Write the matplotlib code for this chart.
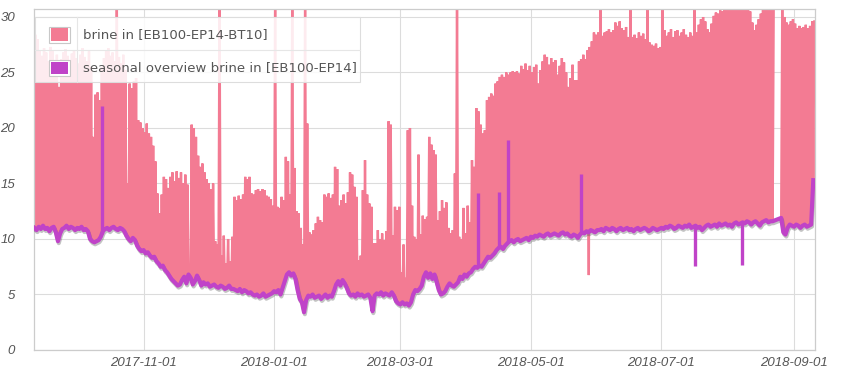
import numpy as np
import matplotlib
matplotlib.use('Agg')
import matplotlib.pyplot as plt
import matplotlib.dates as mdates
import matplotlib.patheffects as pe
from matplotlib.patches import Rectangle
from matplotlib.lines import Line2D

# ---------------- data (daily, starting at start_date) ----------------
start_date = '2017-09-11'

# seasonal overview brine in (daily), also the daily minimum of the brine-in signal
seasonal = [
    11.0, 10.8, 11.1, 10.9, 11.2, 10.9, 11.0, 10.7, 11.0, 11.1, 10.6,
    9.8,
    10.5, 10.9, 11.0, 11.2, 10.9, 11.1, 11.0, 10.8, 11.0, 10.9, 11.1, 10.8, 10.9, 10.7,
    10.0, 9.8, 9.7, 9.8, 9.9,
    10.2,
    10.7, 10.9, 11.0, 10.8, 11.0, 11.1, 10.9, 10.8, 11.0, 10.9, 10.7,
    10.3, 10.0, 9.8, 10.1, 9.9,
    9.4, 9.1, 8.9, 9.0, 8.7, 8.8,
    8.5, 8.3, 8.4, 8.0, 7.8, 7.5, 7.6, 7.2, 7.0,
    6.7, 6.4, 6.2, 6.0, 5.8, 5.9,
    6.3, 6.6, 6.0, 6.8, 6.5, 5.9, 6.2, 6.7, 6.3, 5.8, 6.1, 5.9, 6.0, 5.7,
    5.8, 5.9, 5.7, 5.6, 5.8, 5.7, 5.5, 5.6, 5.8, 5.5,
    5.5, 5.4, 5.3, 5.5, 5.2, 5.4, 5.3, 5.1, 5.2, 5.0,
    4.9, 5.0, 4.8, 4.9, 5.1, 4.8, 4.9, 5.0, 5.1,
    5.3, 5.2, 5.4, 5.0, 5.6, 6.2,
    6.8, 7.0, 6.7, 6.9, 6.4, 5.4, 4.6, 4.3, 3.4, 4.5,
    4.9, 4.8, 5.0, 4.7, 4.8, 4.9, 4.6, 4.8, 5.0, 4.7, 4.9, 4.8, 5.3, 5.9,
    6.2, 5.8, 6.3, 6.0, 5.6,
    5.1, 4.9, 5.0, 4.8, 5.1, 4.9, 5.0, 4.8, 4.9, 5.0, 4.7,
    3.5,
    4.9, 5.1, 5.0, 5.2, 4.9, 5.1, 5.0, 4.9, 5.2, 4.9,
    4.4, 4.2, 4.1, 4.3, 4.1, 4.2, 4.0, 4.3,
    5.0, 5.4, 5.3, 5.5, 5.8,
    6.6, 7.0, 6.5, 6.9, 6.4, 6.8, 6.1,
    5.4, 5.0, 5.1, 5.3,
    5.7, 6.0, 5.8, 5.7, 5.9, 6.1,
    6.6, 6.4, 6.8, 6.6, 6.9, 7.0,
    7.3, 7.5, 7.4, 7.6, 7.5, 7.8,
    8.1, 8.4, 8.3, 8.5, 8.7,
    9.0, 9.2, 9.3, 9.1, 9.4, 9.6,
    9.8, 9.9, 9.7, 9.9, 10.0, 9.8, 9.9, 10.0, 10.1, 9.9,
    10.2, 10.1, 10.3, 10.2, 10.4, 10.3, 10.2, 10.4, 10.5, 10.3, 10.4, 10.5,
    10.4, 10.3, 10.5, 10.6, 10.4, 10.5, 10.3, 10.2, 10.4, 10.3, 10.1,
    10.4, 10.6, 10.5, 10.7, 10.6, 10.8, 10.7, 10.6, 10.8,
    10.8, 10.9, 10.7, 11.0, 10.9, 10.8, 11.0, 10.9, 10.7, 10.9, 11.0, 10.8, 10.9, 11.0, 10.8,
    10.9, 10.7, 10.9, 11.0, 10.8, 10.9, 11.0, 10.9, 10.7, 10.8, 11.0, 10.9, 10.8, 10.9,
    11.0, 10.9, 11.1, 11.0, 11.2, 11.1, 10.9, 11.0, 11.2, 11.1,
    11.0, 11.2, 11.1, 11.3, 11.0, 11.1, 11.2, 11.0, 11.1, 10.8,
    11.0, 11.2, 11.3, 11.1, 11.2, 11.3, 11.1, 11.4, 11.2, 11.3,
    11.4, 11.2, 11.3, 11.1, 11.4, 11.5, 11.3, 11.4,
    11.5, 11.4, 11.6, 11.5, 11.3, 11.5, 11.6, 11.4, 11.2, 11.5, 11.6, 11.7, 11.5, 11.6, 11.6,
    np.nan, np.nan, np.nan,
    11.9,
    10.6, 10.4, 11.0,
    11.3, 11.2, 11.1, 11.3, 11.2, 11.0, 11.2, 11.3, 11.1, 11.2, 11.3,
    15.3,
]

# daily maximum of brine in [EB100-EP14-BT10]
brine_peak = [
    28.4, 28.0, 27.0, 26.5, 27.2, 26.8, 26.0, 27.3, 26.9, 25.8, 26.6,
    23.7,
    26.2, 26.8, 27.1, 26.5, 25.9, 26.7, 27.0, 26.3, 25.8, 26.6, 27.2, 26.4, 26.0, 26.9, 25.5,
    19.2,
    23.0, 23.2, 22.5,
    25.5, 26.3, 26.9, 27.2, 26.5, 26.8, 26.0,
    32.0,
    26.4, 25.8, 26.6, 25.2,
    15.0,
    24.0, 23.6, 24.2, 24.5,
    20.7, 20.5, 20.0, 19.6, 20.4, 19.5, 19.2, 18.4, 17.0,
    14.1, 12.3, 14.0, 15.6, 15.4, 14.6, 15.6, 16.0, 15.2, 16.1, 15.5, 16.0, 15.0, 15.8, 14.9,
    6.6, 20.3, 20.0, 19.2, 17.5, 16.5, 16.8, 16.0, 15.4, 15.0, 14.5, 15.0,
    9.8, 9.5, 32.0, 8.5, 10.3, 7.8, 10.0, 8.0, 10.2,
    13.8, 13.5, 13.9, 13.6, 14.0, 15.6, 15.4, 15.6, 14.1, 14.0, 14.4, 14.5, 14.3, 14.5, 14.4,
    13.9, 13.8, 13.6, 13.0,
    32.0, 12.9, 12.8, 13.8, 13.5, 17.4, 17.0, 14.0, 32.0, 16.4,
    12.5, 12.3, 11.0, 9.5, 32.0, 20.4, 10.6, 10.4, 10.8, 11.4, 12.0, 11.7, 11.5, 14.0, 13.8,
    14.1, 13.7, 14.0,
    16.5, 16.3, 13.0, 13.5, 14.0, 13.2, 14.2, 16.0, 15.8, 14.7, 13.8, 8.1, 8.5, 14.4, 17.1,
    14.0, 13.2, 12.9,
    9.6, 9.6, 10.8, 10.0, 10.5, 9.9, 10.7, 20.6, 20.3, 10.3, 12.9, 12.6, 12.9, 7.0, 9.5,
    6.5, 19.8, 20.0, 13.0,
    10.2, 10.0, 17.6, 10.4, 12.1, 11.8, 12.0, 19.2, 18.5, 18.0, 17.6, 11.7, 12.5, 13.5, 12.8,
    13.3, 11.0, 10.5, 10.8,
    15.9, 32.0, 10.2, 10.0, 12.8, 10.5, 13.0, 11.5, 17.1, 16.5, 21.8, 21.5, 20.3, 19.5, 19.8,
    22.5, 22.8, 23.1, 22.9,
    24.0, 24.2, 24.6, 24.8, 24.6, 25.0, 24.8, 25.0, 25.1, 25.0, 25.1, 24.9, 25.6, 25.3, 25.8,
    25.2, 25.6, 25.0, 25.5, 25.7,
    24.0, 25.2, 26.0, 26.6, 26.4, 25.7, 26.3, 25.9, 26.1, 24.8, 25.6, 26.3, 25.9, 25.0, 23.7,
    24.5, 25.7, 24.3, 24.3, 26.0,
    26.2, 26.6, 26.2, 27.0, 27.3, 27.8, 28.6, 28.4, 28.6, 32.0, 28.3, 28.6, 28.7, 28.9, 28.6,
    28.8, 29.5, 29.2, 29.6,
    29.0, 28.8, 29.1, 28.2, 32.0, 28.2, 28.4, 28.1, 28.6, 28.3, 28.5, 28.0, 32.0, 27.7, 27.5,
    27.4, 27.6, 27.2, 27.3,
    32.0, 28.8, 28.3, 28.6, 28.9, 28.2, 28.7, 28.8, 28.3, 28.6, 28.9, 28.4, 28.2, 28.6, 28.3,
    32.0, 28.6, 29.3, 29.8,
    30.0, 29.6, 28.9, 28.6, 29.4, 30.1, 30.4, 30.3, 30.6, 30.5, 30.7, 31.0, 31.5, 31.3, 31.6,
    31.4, 31.5, 31.2, 31.6, 31.4,
    31.0, 30.8, 30.5, 29.5, 28.8, 29.3, 29.8, 30.3, 31.0, 31.2, 31.4, 31.1, 31.3, 31.0,
    np.nan, np.nan, np.nan,
    31.0, 30.0, 29.5, 29.3, 29.6, 29.8, 29.4, 29.0, 29.2, 29.0, 29.1, 29.3, 29.0, 29.2, 29.6,
    29.6,
]

# short excursions of the seasonal overview line
seasonal_spike_dates = ['2017-10-12 10:00', '2018-04-06 07:00', '2018-04-16 02:00',
                        '2018-04-20 07:00', '2018-05-24 10:00', '2018-07-16 17:00',
                        '2018-08-07 12:00']
seasonal_spike_values = [22.0, 14.1, 14.2, 18.9, 15.9, 7.55, 7.65]

# short downward excursion of brine in
brine_dip_dates = ['2018-05-28 02:00']
brine_dip_values = [6.75]

tick_dates = ['2017-11-01', '2018-01-01', '2018-03-01', '2018-05-01', '2018-07-01', '2018-09-01']
y_ticks = [0, 5, 10, 15, 20, 25, 30]
legend_labels = ['brine in [EB100-EP14-BT10]', 'seasonal overview brine in [EB100-EP14]']

# ---------------- styling ----------------
PINK = '#F37B93'
PURPLE = '#C043C8'
W, H = 850, 375

seasonal = np.array(seasonal, dtype=float)
brine_peak = np.array(brine_peak, dtype=float)
assert len(seasonal) == len(brine_peak), (len(seasonal), len(brine_peak))

t0 = mdates.datestr2num(start_date)
days = t0 + np.arange(len(seasonal))

fig = plt.figure(figsize=(W / 100, H / 100), dpi=100)
ax = fig.add_axes([34 / W, 1 - 350 / H, (815 - 34) / W, (350 - 9) / H])

# brine in: dense oscillation between daily minimum and daily maximum
pt_t, pt_v = [], []
for d, lo, hi in zip(days, seasonal, brine_peak):
    if np.isnan(hi) or np.isnan(lo):
        pt_t.append(d)
        pt_v.append(np.nan)
        continue
    pt_t += [d, d + 0.5]
    pt_v += [lo, hi]
pt_t = np.concatenate([pt_t, mdates.datestr2num(brine_dip_dates)])
pt_v = np.concatenate([pt_v, brine_dip_values])
order = np.argsort(pt_t, kind='stable')
ax.plot(pt_t[order], pt_v[order], color=PINK, lw=1.7, solid_joinstyle='miter', zorder=2)

# seasonal overview line
valid = ~np.isnan(seasonal)
shadow = [pe.SimpleLineShadow(offset=(0.6, -1.4), shadow_color='#555555', alpha=0.35),
          pe.Normal()]
ax.plot(days[valid], seasonal[valid], color=PURPLE, lw=3.0, zorder=4,
        solid_joinstyle='round', path_effects=shadow)
sp_t = mdates.datestr2num(seasonal_spike_dates)
sp_base = np.interp(sp_t, days[valid], seasonal[valid])
ax.vlines(sp_t, sp_base, seasonal_spike_values, color=PURPLE, lw=2.4, zorder=4)

# axes
ax.set_xlim(t0 - 0.2, t0 + 364.8)
ax.set_ylim(0, 30.72)
ax.set_yticks(y_ticks)
ax.set_xticks(mdates.datestr2num(tick_dates))
ax.xaxis.set_major_formatter(mdates.DateFormatter('%Y-%m-%d'))
ax.grid(True, color='#dcdcdc', lw=0.8, zorder=0)
ax.set_axisbelow(True)
for s in ax.spines.values():
    s.set_color('#cccccc')
    s.set_linewidth(0.9)
ax.tick_params(axis='both', length=0, labelsize=9.5, labelcolor='#555555')
ax.tick_params(axis='y', pad=13.5)
ax.tick_params(axis='x', pad=5)
for lab in ax.get_xticklabels() + ax.get_yticklabels():
    lab.set_fontfamily('Liberation Sans')
    lab.set_fontstyle('italic')


# legend (drawn as a small table in figure pixels)
def fx(x):
    return x / W


def fy(y):
    return 1 - y / H


fig.add_artist(Rectangle((fx(35), fy(82)), fx(360) - fx(35), fy(17) - fy(82),
                         transform=fig.transFigure, facecolor=(1, 1, 1, 0.86),
                         edgecolor='#dddddd', lw=0.8, zorder=10))
fig.add_artist(Line2D([fx(35), fx(360)], [fy(49.5), fy(49.5)], transform=fig.transFigure,
                      color='#e6e6e6', lw=0.8, zorder=11))
fig.add_artist(Line2D([fx(77), fx(77)], [fy(17), fy(82)], transform=fig.transFigure,
                      color='#e6e6e6', lw=0.8, zorder=11))
for row, (lab, col) in enumerate(zip(legend_labels, [PINK, PURPLE])):
    yc = 34.5 + 33 * row
    fig.add_artist(Rectangle((fx(48.5), fy(yc + 8)), fx(70) - fx(48.5), fy(yc - 8) - fy(yc + 8),
                             transform=fig.transFigure, facecolor='white',
                             edgecolor='#c8c8c8', lw=0.8, zorder=11))
    fig.add_artist(Rectangle((fx(50.5), fy(yc + 6)), fx(68) - fx(50.5), fy(yc - 6) - fy(yc + 6),
                             transform=fig.transFigure, facecolor=col,
                             edgecolor='none', zorder=12))
    fig.text(fx(83), fy(yc), lab, ha='left', va='center', fontsize=9.5,
             color='#555555', family='DejaVu Sans', zorder=12)

fig.savefig('out.png', dpi=100)
